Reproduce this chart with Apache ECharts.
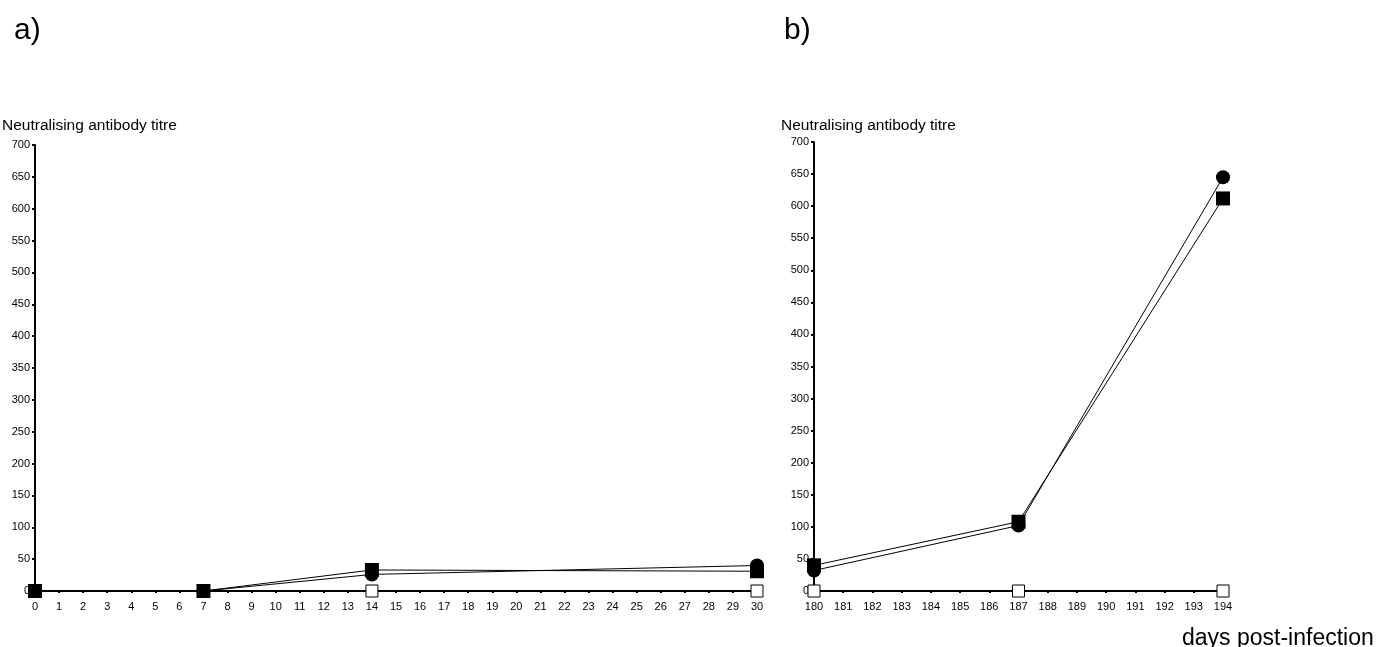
<!DOCTYPE html>
<html>
<head>
<meta charset="utf-8">
<script src="https://cdn.jsdelivr.net/npm/echarts@6/dist/echarts.min.js"></script>
<style>
  html, body { margin: 0; padding: 0; background: #fff; }
  #chart { width: 1376px; height: 647px; }
</style>
</head>
<body>
<div id="chart"></div>
<script>
// panel a) days 0-30
var daysA = [0, 7, 14, 30];
var circleA = [0, 0, 26, 40];
var squareA = [0, 0, 33, 31];
var openA = [0, 0, 0, 0];

// panel b) days 180-194
var daysB = [180, 187, 194];
var circleB = [32, 102, 645];
var squareB = [40, 108, 612];
var openB = [0, 0, 0];

function pairs(xs, ys) {
  return xs.map(function (x, i) { return [x, ys[i]]; });
}

var font = 'Liberation Sans, Arial, sans-serif';

function xAxisFor(idx, min, max) {
  return {
    type: 'value', gridIndex: idx, min: min, max: max, interval: 1,
    axisLine: { lineStyle: { color: '#000', width: 2 } },
    axisTick: { length: 2, lineStyle: { color: '#000', width: 2 } },
    axisLabel: { color: '#000', fontSize: 11, fontFamily: font, margin: 10 },
    splitLine: { show: false }
  };
}
function yAxisFor(idx) {
  return {
    type: 'value', gridIndex: idx, min: 0, max: 700, interval: 50,
    axisLine: { show: true, lineStyle: { color: '#000', width: 2 } },
    axisTick: { show: true, length: 3, lineStyle: { color: '#000', width: 2 } },
    axisLabel: { color: '#000', fontSize: 11, fontFamily: font, margin: 5 },
    splitLine: { show: false }
  };
}

function lineSeries(idx, data, symbol, size, open) {
  return {
    type: 'line', xAxisIndex: idx, yAxisIndex: idx, data: data,
    symbol: symbol, symbolSize: size, showAllSymbol: true,
    lineStyle: { color: '#000', width: 1 },
    itemStyle: open ? { color: '#fff', borderColor: '#000', borderWidth: 1 } : { color: '#000' },
    z: open ? 1 : 3,
    animation: false
  };
}

var chart = echarts.init(document.getElementById('chart'));
chart.setOption({
  animation: false,
  title: [
    { text: 'a)', left: 9, top: 11, textStyle: { fontSize: 30, fontWeight: 'normal', fontFamily: font, color: '#000' } },
    { text: 'b)', left: 779, top: 11, textStyle: { fontSize: 30, fontWeight: 'normal', fontFamily: font, color: '#000' } },
    { text: 'Neutralising antibody titre', left: -3, top: 113, textStyle: { fontSize: 15.5, fontWeight: 'normal', fontFamily: font, color: '#000' } },
    { text: 'Neutralising antibody titre', left: 776, top: 113, textStyle: { fontSize: 15.5, fontWeight: 'normal', fontFamily: font, color: '#000' } },
    { text: 'days post-infection', left: 1177, top: 622, textStyle: { fontSize: 23, fontWeight: 'normal', fontFamily: font, color: '#000' } }
  ],
  grid: [
    { left: 35, top: 145, width: 722, height: 446 },
    { left: 814, top: 142, width: 409, height: 449 }
  ],
  xAxis: [xAxisFor(0, 0, 30), xAxisFor(1, 180, 194)],
  yAxis: [yAxisFor(0), yAxisFor(1)],
  series: [
    lineSeries(0, pairs(daysA, openA), 'rect', 12, true),
    lineSeries(0, pairs(daysA, circleA), 'circle', 14, false),
    lineSeries(0, pairs(daysA, squareA), 'rect', 14, false),
    lineSeries(1, pairs(daysB, openB), 'rect', 12, true),
    lineSeries(1, pairs(daysB, circleB), 'circle', 14, false),
    lineSeries(1, pairs(daysB, squareB), 'rect', 14, false)
  ]
});
</script>
</body>
</html>
